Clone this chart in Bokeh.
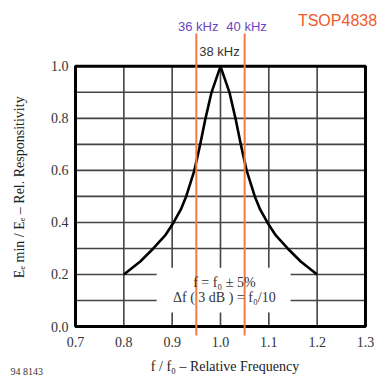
from bokeh.plotting import figure
from bokeh.models import FixedTicker, PrintfTickFormatter, Title
from bokeh.core.properties import value
from bokeh.embed import file_html
from bokeh.resources import INLINE

# ---- data ----
curve_x = [0.800, 0.834, 0.861, 0.8855, 0.903, 0.918, 0.929, 0.946, 0.958, 0.969, 0.9815, 1.000,
           1.0185, 1.031, 1.042, 1.054, 1.071, 1.082, 1.097, 1.1145, 1.139, 1.166, 1.200]
curve_y = [0.20, 0.25, 0.30, 0.35, 0.40, 0.45, 0.50, 0.60, 0.70, 0.80, 0.90, 1.00,
           0.90, 0.80, 0.70, 0.60, 0.50, 0.45, 0.40, 0.35, 0.30, 0.25, 0.20]
marker_freqs = [0.95, 1.05]
marker_labels = ["36 kHz", "40 kHz"]
x_ticks = [0.7, 0.8, 0.9, 1.0, 1.1, 1.2, 1.3]
y_ticks = [0.0, 0.2, 0.4, 0.6, 0.8, 1.0]
grid_x = [0.8, 0.9, 1.0, 1.1, 1.2]
grid_y = [0.1, 0.2, 0.3, 0.4, 0.5, 0.6, 0.7, 0.8, 0.9]
note_lines = ["f = f₀ ± 5%", "Δf ( 3 dB ) = f₀/10"]

SERIF = "Liberation Serif"
SANS = "Liberation Sans"

X_L, X_R = 0.69172, 1.32694
Y_B, Y_T = -0.0345, 1.25287

p = figure(width=378, height=376, x_range=(X_L, X_R), y_range=(Y_B, Y_T),
           output_backend="svg", toolbar_location=None,
           min_border_left=71, min_border_right=0, min_border_top=0, min_border_bottom=40)
p.outline_line_color = None
p.grid.visible = False
p.background_fill_color = "white"

for ax in (p.xaxis, p.yaxis):
    ax.axis_line_color = None
    ax.major_tick_line_color = None
    ax.minor_tick_line_color = None
    ax.major_tick_out = 0
    ax.major_tick_in = 0
    ax.minor_tick_out = 0
    ax.minor_tick_in = 0
    ax.major_label_text_font = SERIF
    ax.major_label_text_font_size = "14px"
    ax.major_label_text_color = "#333333"
    ax.axis_label_text_font = SERIF
    ax.axis_label_text_font_size = "14px"
    ax.axis_label_text_font_style = "normal"
    ax.axis_label_text_color = "#222222"
    ax.formatter = PrintfTickFormatter(format="%.1f")

p.xaxis.ticker = FixedTicker(ticks=x_ticks)
p.yaxis.ticker = FixedTicker(ticks=y_ticks)
p.xaxis.major_label_standoff = 1
p.xaxis.axis_label_standoff = 9
p.yaxis.major_label_standoff = 3
p.yaxis.axis_label_standoff = 21
p.xaxis.axis_label = "f / f₀ – Relative Frequency"
p.yaxis.axis_label = "Eₑ min / Eₑ – Rel. Responsitivity" + "\u00a0" * 11

p.add_layout(Title(text="94 8143", align="left", vertical_align="top", offset=-61,
                   standoff=-22, text_font=SERIF, text_font_size="10px",
                   text_font_style="normal", text_color="#333333"), "below")

# grid lines inside the box
p.segment(x0=grid_x, y0=[0] * len(grid_x), x1=grid_x, y1=[1] * len(grid_x),
          line_color="#444444", line_width=1.6)
p.segment(x0=[0.7] * len(grid_y), y0=grid_y, x1=[1.3] * len(grid_y), y1=grid_y,
          line_color="#444444", line_width=1.6)

# white background behind the note
p.quad(left=[0.868], right=[1.145], bottom=[0.054], top=[0.226],
       fill_color="white", line_color=None)

# response curve
p.line(curve_x, curve_y, line_color="black", line_width=2.6)

# frame
p.quad(left=[0.7], right=[1.3], bottom=[0.0], top=[1.0],
       fill_color=None, line_color="black", line_width=3)

# orange marker lines
p.segment(x0=marker_freqs, y0=[-0.05] * 2, x1=marker_freqs, y1=[1.1264] * 2,
          line_color="#F47A45", line_width=2)

# note text
p.text(x=[1.008, 1.008], y=[0.1686, 0.111], text=note_lines,
       text_font=value(SERIF), text_font_size="14px", text_color="#333333",
       text_align="center", text_baseline="middle")

# 38 kHz
p.text(x=[0.998], y=[1.057], text=["38 kHz"], text_font=value(SANS),
       text_font_size="13px", text_color="#333333",
       text_align="center", text_baseline="middle")

# 36 / 40 kHz
p.text(x=[f + 0.004 for f in marker_freqs], y=[1.153] * 2, text=marker_labels,
       text_font=value(SANS), text_font_size="13px", text_color="#6A45C4",
       text_align="center", text_baseline="middle")

# part number
p.text(x=[1.324], y=[1.176], text=["TSOP4838"], text_font=value(SANS),
       text_font_size="16px", text_color="#F05A2A",
       text_align="right", text_baseline="middle")

open("out.html", "w").write(file_html(p, INLINE))
